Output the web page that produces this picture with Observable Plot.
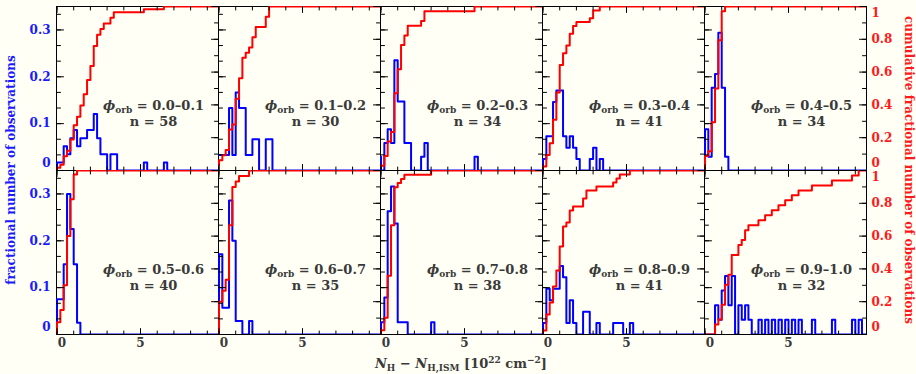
<!DOCTYPE html>
<html>
<head>
<meta charset="utf-8">
<script src="https://cdn.jsdelivr.net/npm/d3@7"></script>
<script src="https://cdn.jsdelivr.net/npm/@observablehq/plot@0.6"></script>
<style>
  html, body { margin: 0; padding: 0; background: #fffff5; }
  #chart { width: 916px; height: 374px; }
  svg text { font-weight: bold; }
</style>
</head>
<body>
<div id="chart"></div>
<script>
// ---------------- data ----------------
const phaseRanges = ["0.0–0.1", "0.1–0.2", "0.2–0.3", "0.3–0.4", "0.4–0.5",
                     "0.5–0.6", "0.6–0.7", "0.7–0.8", "0.8–0.9", "0.9–1.0"];
const nObs = [58, 30, 34, 41, 34, 40, 35, 38, 41, 32];
const binWidth = 0.2;                       // histogram bin width [1e22 cm^-2]
const firstBinStart = [0, -0.2, -0.2, 0, 0, 0, 0, 0, 0, 0.6];

// number of observations per bin, starting at firstBinStart
const counts_00_01 = [1,1,3,2,4,5,3,4,4,5,5,7,4,2,2,0,2,2,0,0,0,0,0,0,0,0,1,0,0,0,0,0,1];
const counts_01_02 = [1,1,1,1,4,1,5,4,4,1,1,2,2,0,0,2,2];
const counts_02_03 = [1,0,2,3,2,8,5,5,2,2,0,0,0,1,2,0,0,0,0,0,0,0,0,0,0,0,0,0,0,1];
const counts_03_04 = [1,3,3,6,7,7,3,2,3,2,1,0,0,0,1,2,0,1];
const counts_04_05 = [3,1,6,7,10,6,1];
const counts_05_06 = [3,3,6,12,9,6,1];
const counts_06_07 = [6,2,2,10,7,1,1,0,0,1];
const counts_07_08 = [1,3,10,12,9,1,1,1,0,0,0,0,0,0,0,1];
const counts_08_09 = [1,4,3,4,4,6,5,1,3,1,0,0,2,2,0,0,1,0,0,0,0,1,1,1,0,0,1];
const counts_09_10 = [2,1,3,4,2,4,0,2,1,2,1,0,0,1,0,1,0,1,0,1,0,1,0,1,0,1,0,0,0,1,0,0,0,0,0,1,0,0,0,0,0,1,0,1];

// tick labels
const xTickLabels = [0, 5];
const fracTickLabels = [0, 0.1, 0.2, 0.3];
const cumTickLabels = [0, 0.2, 0.4, 0.6, 0.8, 1];

// ---------------- build tables ----------------
const histograms = [counts_00_01, counts_01_02, counts_02_03, counts_03_04, counts_04_05,
                    counts_05_06, counts_06_07, counts_07_08, counts_08_09, counts_09_10];
const S = 0.35;               // top of the fraction axis == cumulative 1
const xDomain = [-0.03, 9.67];

const blueRows = [], redRows = [];
histograms.forEach((counts, i) => {
  const col = i % 5, row = Math.floor(i / 5);
  const k0 = Math.round(firstBinStart[i] / binWidth);
  const total = d3.sum(counts);
  let cum = 0;
  for (let k = -2; k <= 50; k++) {
    const c = counts[k - k0] ?? 0;
    cum += c;
    blueRows.push({panel: i, col, row, x: k * binWidth, y: c / nObs[i]});
    redRows.push({panel: i, col, row, x: k * binWidth, y: (cum / total) * S});
  }
});
const panelInfo = phaseRanges.map((r, i) => ({col: i % 5, row: Math.floor(i / 5), range: r, n: nObs[i]}));

// tick positions
const xMinor = d3.range(0, 10, 1);
const fracMinor = d3.range(0, 11).map(k => k * 0.1 / 3);
const fracMajor = [0, 0.1, 0.2, 0.3];
const cumMinor = d3.range(0, 11).map(k => k / 10);
const cumMajor = cumTickLabels;

const tickShape = {draw(context, l) { context.moveTo(0, 0); context.lineTo(0, -l); }};
const tick = (data, opts) => Plot.vector(data, {shape: tickShape, anchor: "start", stroke: "black",
  strokeWidth: 1, fill: "none", ...opts});

const blueText = "#1a1aff", redText = "#ff1a1a", greyText = "#3a3a3a";

const plot = Plot.plot({
  width: 916, height: 374,
  marginLeft: 54, marginRight: 48, marginTop: 6, marginBottom: 40,
  style: {background: "#fffff5", fontFamily: "'DejaVu Serif', serif", fontSize: "12px", overflow: "visible"},
  x: {domain: xDomain, axis: null},
  y: {domain: [0, S], axis: null},
  fx: {domain: [0, 1, 2, 3, 4], padding: 0, axis: null},
  fy: {domain: [0, 1], padding: 0, axis: null},
  marks: [
    Plot.frame({stroke: "black", strokeWidth: 1}),
    Plot.line(blueRows, {x: "x", y: "y", z: "panel", fx: "col", fy: "row", curve: "step-after",
      stroke: "#0000ff", strokeWidth: 2, clip: true}),
    Plot.line(redRows, {x: "x", y: "y", z: "panel", fx: "col", fy: "row", curve: "step-after",
      stroke: "#ff0000", strokeWidth: 2, clip: true}),
    // inward ticks on every panel
    tick(xMinor, {x: d => d, frameAnchor: "top", rotate: 180, length: 3.5}),
    tick(xTickLabels, {x: d => d, frameAnchor: "top", rotate: 180, length: 6}),
    tick(xMinor, {x: d => d, frameAnchor: "bottom", rotate: 0, length: 3.5}),
    tick(xTickLabels, {x: d => d, frameAnchor: "bottom", rotate: 0, length: 6}),
    tick(fracMinor, {y: d => d, frameAnchor: "left", rotate: 90, length: 4}),
    tick(fracMajor, {y: d => d, frameAnchor: "left", rotate: 90, length: 7}),
    tick(cumMinor, {y: d => d * S, frameAnchor: "right", rotate: -90, length: 4}),
    tick(cumMajor, {y: d => d * S, frameAnchor: "right", rotate: -90, length: 7}),
    // tick labels
    Plot.axisY(fracTickLabels.filter(d => d > 0), {anchor: "left", tickSize: 0, tickPadding: 6, label: null,
      tickFormat: d3.format(".1f"), color: blueText}),
    Plot.axisY([0], {anchor: "left", tickSize: 0, tickPadding: 6, label: null, tickFormat: d => "0",
      color: blueText, dy: -7}),
    Plot.axisY(cumTickLabels.filter(d => d > 0 && d < 1).map(d => d * S), {anchor: "right", tickSize: 0,
      tickPadding: 5, label: null, tickFormat: d => String(+(d / S).toFixed(1)), color: redText}),
    Plot.axisY([S], {anchor: "right", tickSize: 0, tickPadding: 5, label: null, tickFormat: d => "1",
      color: redText, dy: 7}),
    Plot.axisY([0], {anchor: "right", tickSize: 0, tickPadding: 5, label: null, tickFormat: d => "0",
      color: redText, dy: -7}),
    Plot.axisX([5], {anchor: "bottom", tickSize: 0, tickPadding: 4, label: null, tickFormat: d => String(d),
      color: greyText}),
    Plot.axisX([0], {anchor: "bottom", tickSize: 0, tickPadding: 4, label: null, tickFormat: d => "0",
      color: greyText, dx: 5}),
    // panel annotations
    Plot.text(panelInfo, {fx: "col", fy: "row", frameAnchor: "middle", dx: 16, dy: 17,
      text: d => "ϕorb = " + d.range, fill: greyText, fontSize: 13}),
    Plot.text(panelInfo, {fx: "col", fy: "row", frameAnchor: "middle", dx: 16, dy: 33,
      text: d => "n = " + d.n, fill: greyText, fontSize: 13})
  ]
});

const svg = d3.select(plot);

// subscript "orb"
svg.selectAll("text").filter(function () { return this.textContent.startsWith("ϕorb"); })
  .each(function () {
    const rest = this.textContent.slice(4);
    const t = d3.select(this);
    t.text(null);
    t.append("tspan").attr("font-style", "italic").text("ϕ");
    t.append("tspan").attr("font-size", "9px").attr("dy", 3).text("orb");
    t.append("tspan").attr("dy", -3).text(rest);
  });

// axis titles
svg.append("text")
  .attr("transform", "translate(15,170) rotate(-90)")
  .attr("text-anchor", "middle").attr("fill", blueText).attr("font-size", 12)
  .text("fractional number of observations");
svg.append("text")
  .attr("transform", "translate(905,170) rotate(90)")
  .attr("text-anchor", "middle").attr("fill", redText).attr("font-size", 12)
  .text("cumulative fractional number of observations");

const xt = svg.append("text").attr("x", 461).attr("y", 368)
  .attr("text-anchor", "middle").attr("fill", greyText).attr("font-size", 13);
xt.append("tspan").attr("font-style", "italic").text("N");
xt.append("tspan").attr("font-size", 9).attr("dy", 3).text("H");
xt.append("tspan").attr("dy", -3).text(" − ");
xt.append("tspan").attr("font-style", "italic").text("N");
xt.append("tspan").attr("font-size", 9).attr("dy", 3).text("H,ISM");
xt.append("tspan").attr("dy", -3).text(" [10");
xt.append("tspan").attr("font-size", 9).attr("dy", -5).text("22");
xt.append("tspan").attr("dy", 5).text(" cm");
xt.append("tspan").attr("font-size", 9).attr("dy", -5).text("−2");
xt.append("tspan").attr("dy", 5).text("]");

document.getElementById("chart").appendChild(plot);
</script>
</body>
</html>
